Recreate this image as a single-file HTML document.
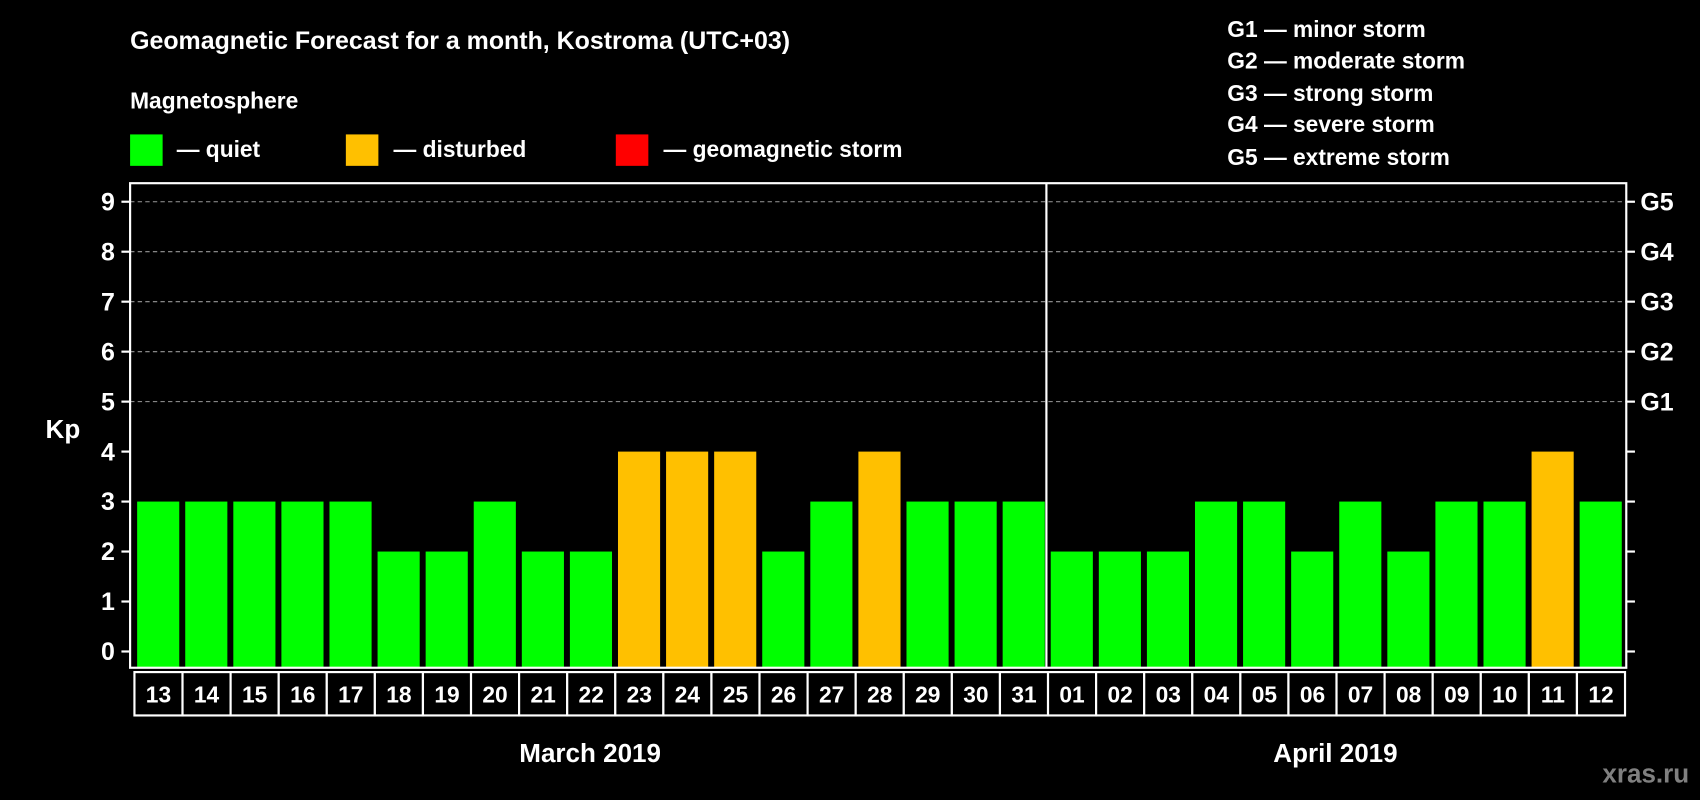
<!DOCTYPE html>
<html><head><meta charset="utf-8"><style>
html,body{margin:0;padding:0;background:#000;}
svg{display:block;font-family:"Liberation Sans",Arial,sans-serif;font-weight:bold;}
</style></head><body>
<svg width="1700" height="800" viewBox="0 0 1568 738" preserveAspectRatio="none" xmlns="http://www.w3.org/2000/svg">
<rect x="0" y="0" width="1568" height="738" fill="#000"/>
<text x="120" y="45" fill="#fff" font-size="23">Geomagnetic Forecast for a month, Kostroma (UTC+03)</text>
<text x="120" y="100" fill="#fff" font-size="21">Magnetosphere</text>
<g><rect x="120" y="124" width="30" height="29" fill="#00ff00"/><text x="163" y="145" fill="#fff" font-size="21">— quiet</text></g>
<g><rect x="319" y="124" width="30" height="29" fill="#ffc000"/><text x="363" y="145" fill="#fff" font-size="21">— disturbed</text></g>
<g><rect x="568" y="124" width="30" height="29" fill="#ff0000"/><text x="612" y="145" fill="#fff" font-size="21">— geomagnetic storm</text></g>
<g fill="#fff" font-size="21">
<text x="1132" y="34">G1 — minor storm</text>
<text x="1132" y="63">G2 — moderate storm</text>
<text x="1132" y="93">G3 — strong storm</text>
<text x="1132" y="122">G4 — severe storm</text>
<text x="1132" y="152">G5 — extreme storm</text>
</g>
<text x="58" y="404" fill="#fff" font-size="24" text-anchor="middle">Kp</text>
<text x="1558" y="722" fill="#808080" font-size="24" text-anchor="end">xras.ru</text>
<g id="grid"></g>
<g id="bars"></g>
<g id="axes"></g>
<g id="dates"></g>
</svg>
<script>
const days = ["13","14","15","16","17","18","19","20","21","22","23","24","25","26","27","28","29","30","31","01","02","03","04","05","06","07","08","09","10","11","12"];
const kpValues = [3,3,3,3,3,2,2,3,2,2,4,4,4,2,3,4,3,3,3,2,2,2,3,3,2,3,2,3,3,4,3];
const yTicks = [0,1,2,3,4,5,6,7,8,9];
const gLabels = ["G1","G2","G3","G4","G5"];
const gLevels = [5,6,7,8,9];
const months = ["March 2019","April 2019"];
const monthDays = [19,12];

const NS="http://www.w3.org/2000/svg";
const L=120,R=1500,T=169,B=616,slot0=123,slotW=44.35;
function y(v){return 601-v*46.1;}
function xs(i){return slot0+i*slotW;}
function mk(tag,attrs,parent){const e=document.createElementNS(NS,tag);for(const k in attrs)e.setAttribute(k,attrs[k]);parent.appendChild(e);return e;}
const grid=document.getElementById('grid'),bars=document.getElementById('bars'),axes=document.getElementById('axes'),dates=document.getElementById('dates');
gLevels.forEach(v=>{
  const l=mk('line',{x1:L,x2:R,y1:y(v),y2:y(v),stroke:'#999','stroke-width':1,'stroke-dasharray':'4,3'},grid);
  
  
});
kpValues.forEach((v,i)=>{
  const col=v>=5?'#ff0000':(v>=4?'#ffc000':'#00ff00');
  const r=mk('rect',{x:xs(i)+3.5,y:y(v),width:slotW-5.5,height:B-y(v),fill:col},bars);
  
  
});
const frame=mk('rect',{x:L,y:T,width:R-L,height:B-T,fill:'none',stroke:'#fff','stroke-width':2},axes);


const div=mk('line',{x1:xs(monthDays[0])-0.5,x2:xs(monthDays[0])-0.5,y1:T,y2:B,stroke:'#fff','stroke-width':2},axes);


yTicks.forEach(v=>{
  mk('line',{x1:L-8,x2:L,y1:y(v),y2:y(v),stroke:'#fff','stroke-width':2},axes);
  mk('line',{x1:R,x2:R+8,y1:y(v),y2:y(v),stroke:'#fff','stroke-width':2},axes);
  const t=mk('text',{x:L-14,y:y(v)+8,fill:'#fff','font-size':23,'text-anchor':'end'},axes);
  t.textContent=v;
  
  
});
gLevels.forEach((v,i)=>{
  const t=mk('text',{x:R+13,y:y(v)+8,fill:'#fff','font-size':23},axes);
  t.textContent=gLabels[i];
  
  
});
days.forEach((d,i)=>{
  const g=mk('g',{},dates);
  
  
  mk('rect',{x:xs(i)+1,y:620,width:slotW,height:40,fill:'#000',stroke:'#fff','stroke-width':2},g);
  const t=mk('text',{x:xs(i)+1+slotW/2,y:648,fill:'#fff','font-size':21,'text-anchor':'middle'},g);
  t.textContent=d;
});
let start=0;
months.forEach((m,k)=>{
  const cx=xs(start)+monthDays[k]*slotW/2;
  const t=mk('text',{x:cx,y:703,fill:'#fff','font-size':24,'text-anchor':'middle'},dates);
  t.textContent=m;
  
  
  start+=monthDays[k];
});
</script>
</body></html>
